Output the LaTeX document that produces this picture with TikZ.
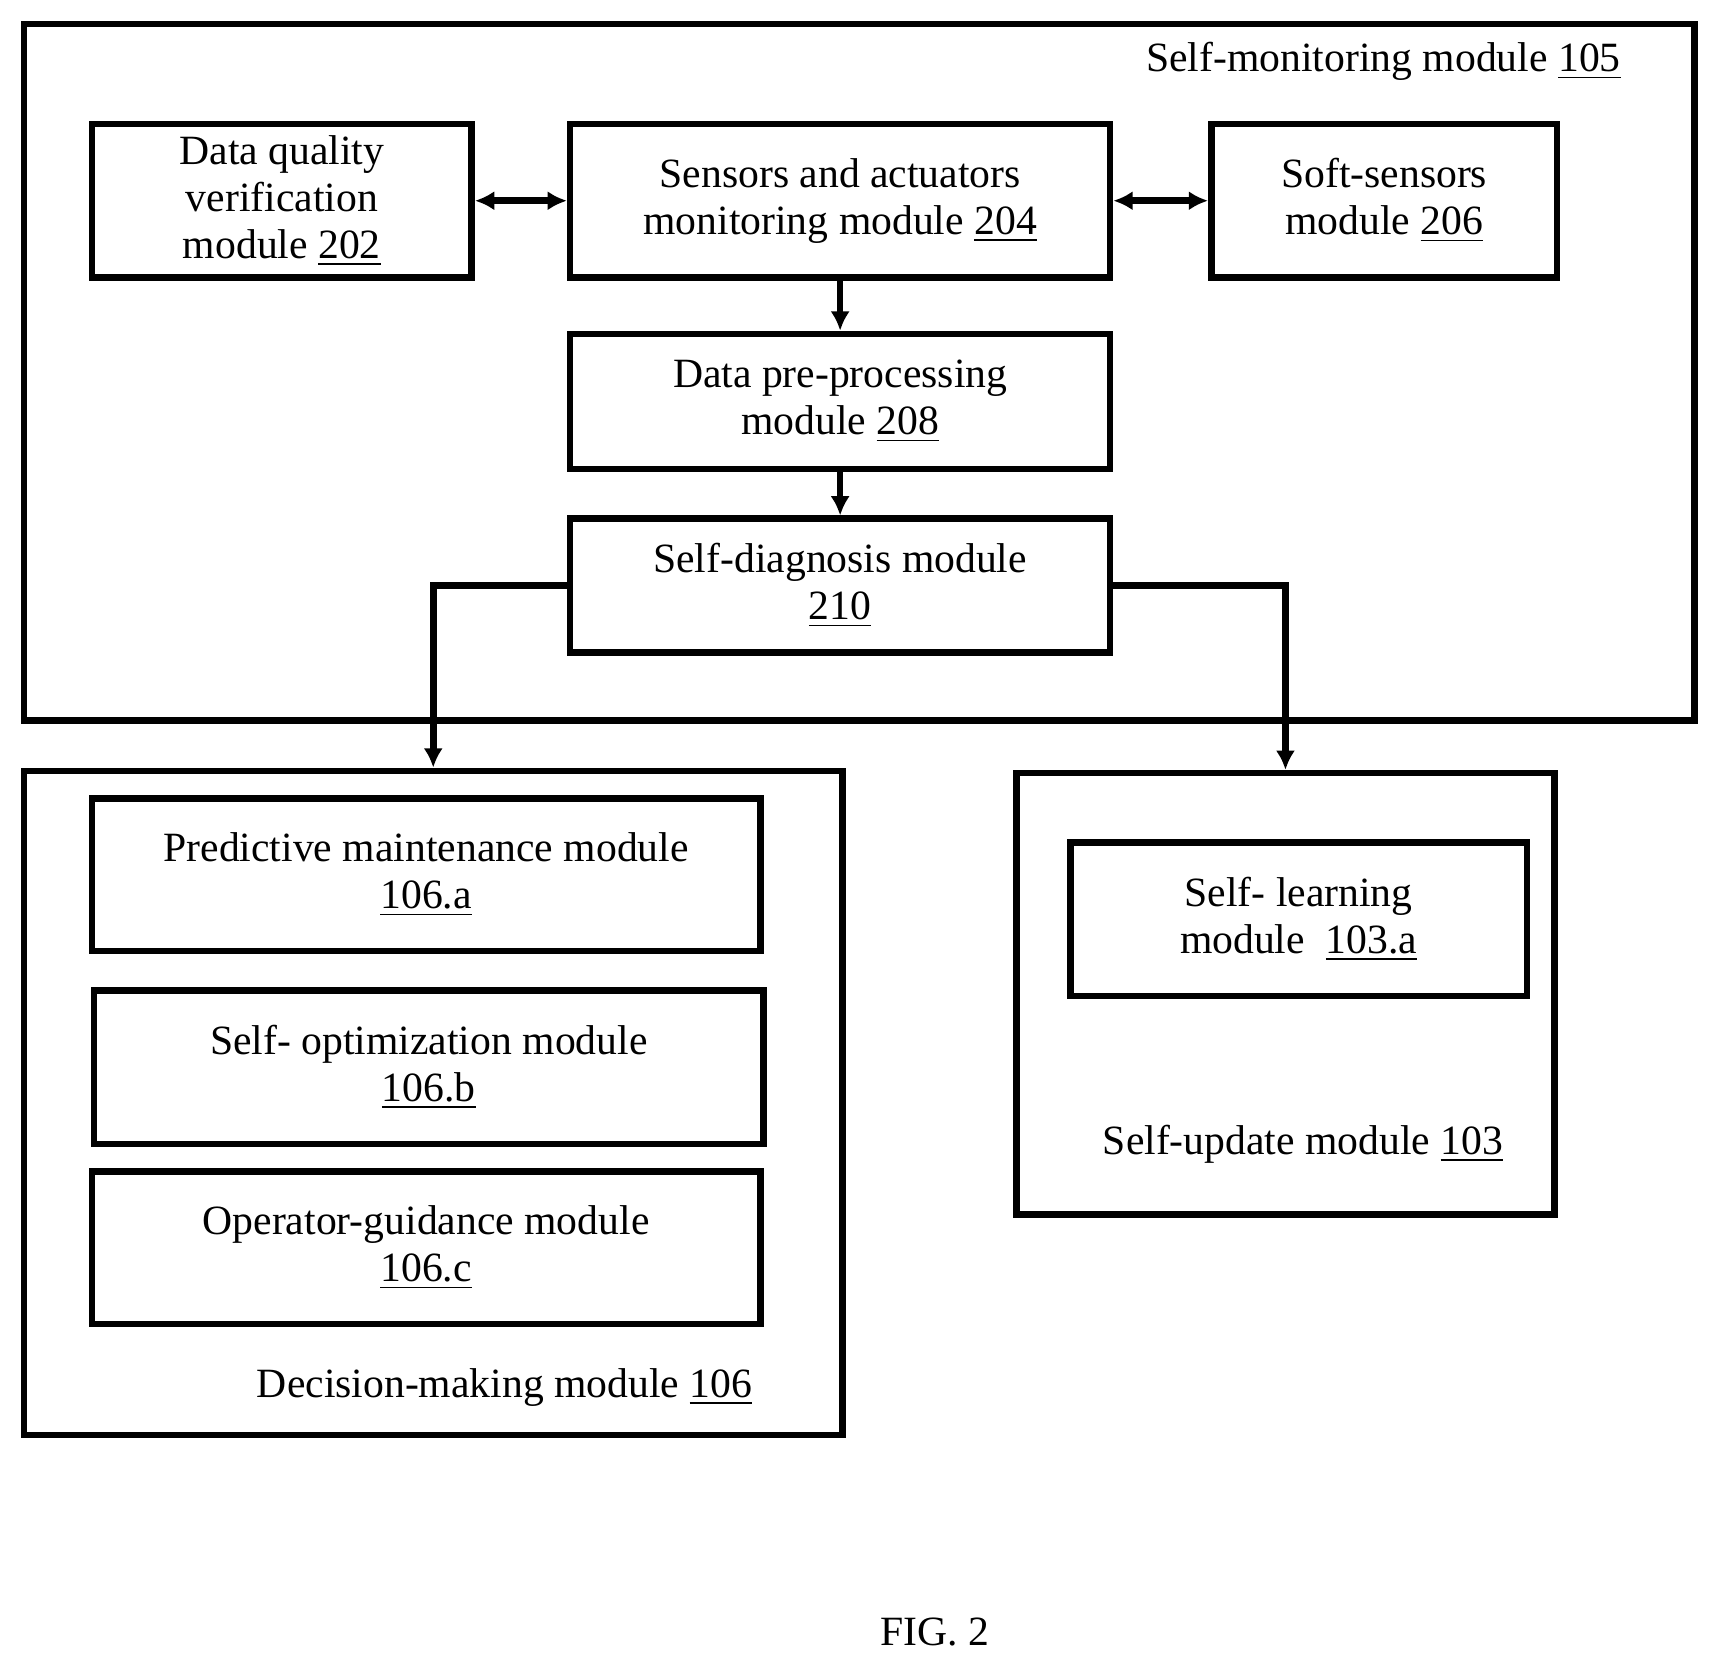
\documentclass[tikz,border=0pt]{standalone}
\usetikzlibrary{arrows.meta}
\usepackage{fontspec}
\setmainfont{Liberation Serif}
\begin{document}
\begin{tikzpicture}[x=0.01cm,y=-0.01cm,
  box/.style={draw,line width=1.7pt,inner sep=0pt},
  txt/.style={align=center,font=\fontsize{10.8}{12.2}\selectfont},
  arr/.style={line width=1.7pt,-{Latex[length=5pt,width=5pt]}},
  darr/.style={line width=1.7pt,{Latex[length=5pt,width=5pt]}-{Latex[length=5pt,width=5pt]}}]
\useasboundingbox (0,0) rectangle (1560,1511);
\draw[line width=1.7pt] (22,22) rectangle (1545,657);
\node[txt,anchor=east] (l105) at (1490,56) {Self-monitoring module \underline{105}};
\node[box,minimum width=3.46cm,minimum height=1.40cm] (b202) at (257,183) {};
\node[txt] at (b202) {Data quality\\verification\\module \underline{202}};
\node[box,minimum width=4.92cm,minimum height=1.40cm] (b204) at (766,183) {};
\node[txt] at (b204) {Sensors and actuators\\monitoring module \underline{204}};
\node[box,minimum width=3.15cm,minimum height=1.40cm] (b206) at (1262,183) {};
\node[txt] at (b206) {Soft-sensors\\module \underline{206}};
\node[box,minimum width=4.92cm,minimum height=1.23cm] (b208) at (766,366) {};
\node[txt] at (b208) {Data pre-processing\\module \underline{208}};
\node[box,minimum width=4.92cm,minimum height=1.22cm] (b210) at (766,534) {};
\node[txt] at (b210) {Self-diagnosis module\\\underline{210}};
\draw[darr] (b202) -- (b204);
\draw[darr] (b204) -- (b206);
\draw[arr] (b204) -- (b208);
\draw[arr] (b208) -- (b210);
\node[box,minimum width=7.46cm,minimum height=6.05cm] (b106) at (395,1005.5) {};
\node[txt] (l106) at (460,1265) {Decision-making module \underline{106}};
\node[box,minimum width=6.09cm,minimum height=1.39cm] (b106a) at (388.5,797.5) {};
\node[txt] at (b106a) {Predictive maintenance module\\\underline{106.a}};
\node[box,minimum width=6.10cm,minimum height=1.40cm] (b106b) at (391,973) {};
\node[txt] at (b106b) {Self- optimization module\\\underline{106.b}};
\node[box,minimum width=6.09cm,minimum height=1.39cm] (b106c) at (388.5,1137.5) {};
\node[txt] at (b106c) {Operator-guidance module\\\underline{106.c}};
\node[box,minimum width=4.90cm,minimum height=4.02cm] (b103) at (1172,906) {};
\node[box,minimum width=4.16cm,minimum height=1.40cm] (b103a) at (1184,838) {};
\node[txt] at (b103a) {Self- learning\\module~ \underline{103.a}};
\node[txt] (l103) at (1188,1043) {Self-update module \underline{103}};
\draw[arr] (b210.west) -- (395,534) -- (b106.north -| 395,0);
\draw[arr] (b210.east) -- (1172,534) -- (b103.north);
\node[txt] (fig) at (852,1488) {FIG. 2};
\end{tikzpicture}
\end{document}
